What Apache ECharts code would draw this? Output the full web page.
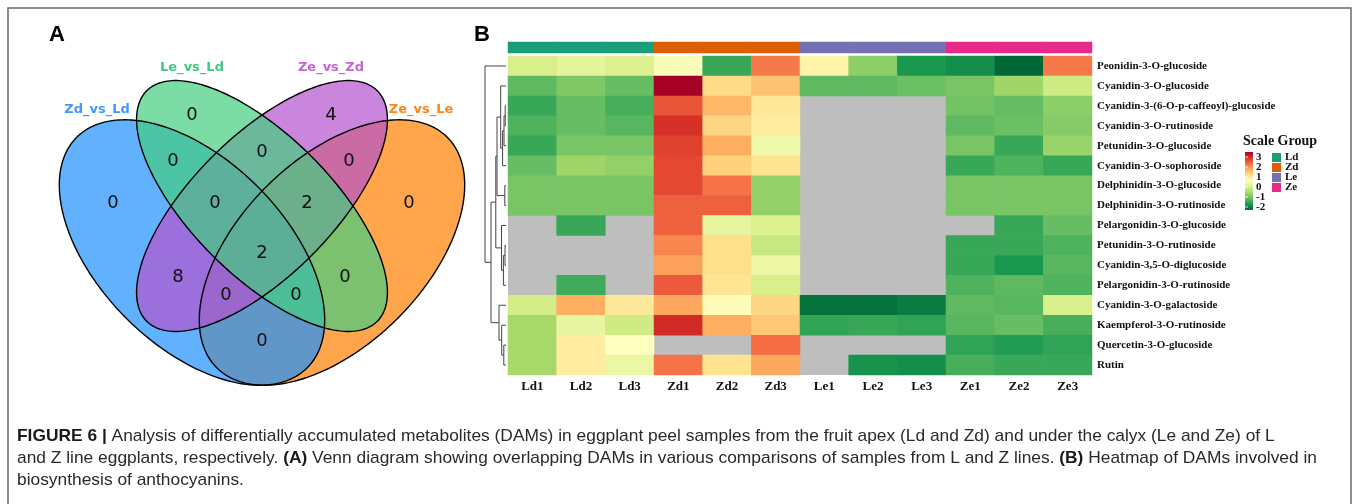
<!DOCTYPE html>
<html>
<head>
<meta charset="utf-8">
<script src="https://cdn.jsdelivr.net/npm/echarts@6/dist/echarts.min.js"></script>
<style>
  html, body { margin: 0; padding: 0; background: #fff; }
  #chart { width: 1357px; height: 504px; }
</style>
</head>
<body>
<div id="chart"></div>
<script>
// ---------- Panel A: Venn diagram of DAMs ----------
const vennSets = ['Zd_vs_Ld', 'Le_vs_Ld', 'Ze_vs_Zd', 'Ze_vs_Le'];
// regions named by the sets they belong to (B=Zd_vs_Ld, G=Le_vs_Ld, P=Ze_vs_Zd, O=Ze_vs_Le)
const vennRegions = ['B', 'G', 'P', 'O', 'BG', 'GP', 'PO', 'BGP', 'GPO', 'BP', 'BGPO', 'GO', 'BPO', 'BGO', 'BO'];
const vennCounts  = [ 0,   0,   4,   0,   0,    0,    0,    0,     2,     8,    2,      0,    0,     0,     0 ];

// ---------- Panel B: heatmap of anthocyanin-related DAMs ----------
const samples = ['Ld1', 'Ld2', 'Ld3', 'Zd1', 'Zd2', 'Zd3', 'Le1', 'Le2', 'Le3', 'Ze1', 'Ze2', 'Ze3'];
const sampleGroup = [0, 0, 0, 1, 1, 1, 2, 2, 2, 3, 3, 3];
const groups = ['Ld', 'Zd', 'Le', 'Ze'];
const metabolites = [
  'Peonidin-3-O-glucoside',
  'Cyanidin-3-O-glucoside',
  'Cyanidin-3-(6-O-p-caffeoyl)-glucoside',
  'Cyanidin-3-O-rutinoside',
  'Petunidin-3-O-glucoside',
  'Cyanidin-3-O-sophoroside',
  'Delphinidin-3-O-glucoside',
  'Delphinidin-3-O-rutinoside',
  'Pelargonidin-3-O-glucoside',
  'Petunidin-3-O-rutinoside',
  'Cyanidin-3,5-O-diglucoside',
  'Pelargonidin-3-O-rutinoside',
  'Cyanidin-3-O-galactoside',
  'Kaempferol-3-O-rutinoside',
  'Quercetin-3-O-glucoside',
  'Rutin'
];
// row-scaled abundance per metabolite (null = not detected)
const zscores = [
  [ 0.00,  0.15,  0.05,  0.45, -1.30,  1.90,  0.70, -0.70, -1.50, -1.60, -2.00,  1.90],
  [-1.05, -0.80, -1.00,  3.00,  1.05,  1.30, -1.05, -1.05, -0.95, -0.85, -0.55, -0.10],
  [-1.30, -1.00, -1.20,  2.20,  1.40,  0.85,  null,  null,  null, -0.90, -1.00, -0.70],
  [-1.15, -1.00, -1.10,  2.50,  1.10,  0.80,  null,  null,  null, -1.05, -0.95, -0.75],
  [-1.30, -0.85, -0.85,  2.35,  1.50,  0.30,  null,  null,  null, -0.85, -1.30, -0.60],
  [-1.00, -0.55, -0.65,  2.30,  1.15,  0.95,  null,  null,  null, -1.30, -1.15, -1.30],
  [-0.85, -0.85, -0.85,  2.30,  1.95, -0.65,  null,  null,  null, -0.85, -0.85, -0.85],
  [-0.85, -0.85, -0.85,  2.10,  2.10, -0.65,  null,  null,  null, -0.85, -0.85, -0.85],
  [ null, -1.30,  null,  2.10,  0.20,  0.05,  null,  null,  null,  null, -1.30, -1.00],
  [ null,  null,  null,  1.80,  1.00, -0.15,  null,  null,  null, -1.30, -1.30, -1.15],
  [ null,  null,  null,  1.60,  1.00,  0.25,  null,  null,  null, -1.30, -1.50, -1.10],
  [ null, -1.25,  null,  2.15,  0.90,  0.00,  null,  null,  null, -1.15, -1.05, -1.15],
  [-0.05,  1.50,  0.85,  1.55,  0.55,  1.10, -1.90, -1.90, -1.80, -1.05, -1.10,  0.00],
  [-0.50,  0.20, -0.10,  2.55,  1.50,  1.25, -1.35, -1.30, -1.35, -1.10, -1.00, -1.20],
  [-0.50,  0.80,  0.50,  null,  null,  2.00,  null,  null,  null, -1.35, -1.45, -1.35],
  [-0.50,  0.80,  0.25,  1.95,  0.95,  1.55,  null, -1.55, -1.60, -1.20, -1.30, -1.30]
];
const scaleTicks = [3, 2, 1, 0, -1, -2];
// row clustering: [childA, childB, height]; leaves are 0..15, merged nodes numbered from 16
const linkage = [
  [2, 3, 0.8], [6, 7, 1.2], [9, 10, 1.0], [16, 4, 2.0], [14, 15, 2.2],
  [18, 11, 2.6], [19, 5, 3.4], [13, 20, 4.3], [8, 21, 4.5], [1, 22, 5.3],
  [12, 23, 7.0], [25, 17, 9.0], [27, 24, 10.2], [28, 26, 15.0], [0, 29, 21.0]
];

// ---------- styling ----------
const heatColors = ['#006837', '#1a9850', '#66bd63', '#a6d96a', '#d9ef8b', '#ffffbf',
                    '#fee08b', '#fdae61', '#f46d43', '#d73027', '#a50026'];
const groupColors = ['#1b9e77', '#d95f02', '#7570b3', '#e7298a'];
const vennFill = { B: 'rgba(30,144,255,0.7)', G: 'rgba(67,205,128,0.7)', P: 'rgba(180,82,205,0.7)', O: 'rgba(255,127,0,0.7)' };
const vennLabelColor = ['#3d9bff', '#3fcb80', '#c862d6', '#ff8418'];
const serif = '"Liberation Serif", "DejaVu Serif", serif';
const sans = '"DejaVu Sans", sans-serif';

// Venn geometry (pixels)
const vennShapes = {
  O: { cx: 332, cy: 252.5, a: 163, b: 93, deg: -45 },
  B: { cx: 192, cy: 252.5, a: 163, b: 93, deg: 45 },
  P: { cx: 262, cy: 206,   a: 163, b: 70, deg: -45 },
  G: { cx: 262, cy: 206,   a: 163, b: 70, deg: 45 }
};
const vennLabelPos = {
  B: [113, 203], G: [192, 115], P: [331, 115], O: [409, 203],
  BG: [173, 161], GP: [262, 152], PO: [349, 161], BGP: [215, 203], GPO: [307, 203],
  BP: [178, 277], BGPO: [262, 253], GO: [345, 277], BPO: [226, 295], BGO: [296, 295], BO: [262, 341]
};
const vennSetLabelPos = [[97, 110], [192, 68], [331, 68], [421, 110]];

function ellipsePoints(s) {
  const t = s.deg * Math.PI / 180, pts = [];
  for (let i = 0; i < 240; i++) {
    const u = i / 240 * 2 * Math.PI;
    const x = s.a * Math.cos(u), y = s.b * Math.sin(u);
    pts.push([s.cx + x * Math.cos(t) - y * Math.sin(t), s.cy + x * Math.sin(t) + y * Math.cos(t)]);
  }
  return pts;
}

const graphics = [];
// outer frame
graphics.push({ type: 'rect', shape: { x: 8, y: 8, width: 1343, height: 540 },
  style: { fill: 'none', stroke: '#6a6a6a', lineWidth: 1.5 }, silent: true });
// panel letters
graphics.push({ type: 'text', x: 57, y: 35, style: { text: 'A', font: 'bold 22px "Liberation Sans", sans-serif', fill: '#000', align: 'center', verticalAlign: 'middle' } });
graphics.push({ type: 'text', x: 482, y: 35, style: { text: 'B', font: 'bold 22px "Liberation Sans", sans-serif', fill: '#000', align: 'center', verticalAlign: 'middle' } });

// Venn fills first, then outlines on top
['O', 'B', 'P', 'G'].forEach(k => {
  graphics.push({ type: 'polygon', shape: { points: ellipsePoints(vennShapes[k]) }, style: { fill: vennFill[k], stroke: 'none' }, silent: true });
});
['O', 'B', 'P', 'G'].forEach(k => {
  graphics.push({ type: 'polygon', shape: { points: ellipsePoints(vennShapes[k]) }, style: { fill: 'none', stroke: '#000', lineWidth: 1.4 }, silent: true });
});
vennRegions.forEach((r, i) => {
  const p = vennLabelPos[r];
  graphics.push({ type: 'text', x: p[0], y: p[1], style: { text: String(vennCounts[i]), font: '18px ' + sans, fill: '#111', align: 'center', verticalAlign: 'middle' } });
});
vennSets.forEach((name, i) => {
  const p = vennSetLabelPos[i];
  graphics.push({ type: 'text', x: p[0], y: p[1], style: { text: name, font: 'bold 13px ' + sans, fill: vennLabelColor[i], align: 'center', verticalAlign: 'middle' } });
});

// heatmap legend: "Scale Group"
graphics.push({ type: 'text', x: 1243, y: 141, style: { text: 'Scale Group', font: 'bold 14px ' + serif, fill: '#111', align: 'left', verticalAlign: 'middle' } });
const barTop = 152, barH = 58, barX = 1245, barW = 8;
graphics.push({ type: 'rect', shape: { x: barX, y: barTop, width: barW, height: barH },
  style: { fill: new echarts.graphic.LinearGradient(0, 0, 0, 1,
    heatColors.slice().reverse().map((c, i) => ({ offset: i / (heatColors.length - 1), color: c }))) } });
scaleTicks.forEach(t => {
  const y = 157 + (3 - t) * 10;
  graphics.push({ type: 'line', shape: { x1: barX, y1: y, x2: barX + 3, y2: y }, style: { stroke: 'rgba(255,255,255,0.8)', lineWidth: 1 } });
  graphics.push({ type: 'text', x: 1256, y: y, style: { text: String(t), font: 'bold 11px ' + serif, fill: '#111', align: 'left', verticalAlign: 'middle' } });
});
groups.forEach((g, i) => {
  const y = 153 + i * 10;
  graphics.push({ type: 'rect', shape: { x: 1272, y: y, width: 9, height: 9 }, style: { fill: groupColors[i] } });
  graphics.push({ type: 'text', x: 1285, y: y + 4.5, style: { text: g, font: 'bold 11px ' + serif, fill: '#111', align: 'left', verticalAlign: 'middle' } });
});

// caption
const capFont = '17px "Liberation Sans", Arial, sans-serif';
const capBold = 'bold 17px "Liberation Sans", Arial, sans-serif';
const captionLines = [
  [['b', 'FIGURE 6 |'], ['n', ' Analysis of differentially accumulated metabolites (DAMs) in eggplant peel samples from the fruit apex (Ld and Zd) and under the calyx (Le and Ze) of L']],
  [['n', 'and Z line eggplants, respectively. '], ['b', '(A)'], ['n', ' Venn diagram showing overlapping DAMs in various comparisons of samples from L and Z lines. '], ['b', '(B)'], ['n', ' Heatmap of DAMs involved in']],
  [['n', 'biosynthesis of anthocyanins.']]
];
const mctx = document.createElement('canvas').getContext('2d');
function lineWidth(parts) {
  return parts.reduce((w, p) => { mctx.font = p[0] === 'b' ? capBold : capFont; return w + mctx.measureText(p[1]).width; }, 0);
}
const capScale = 1300 / lineWidth(captionLines[1]);
captionLines.forEach((parts, i) => {
  graphics.push({
    type: 'text', x: 17, y: 436 + i * 22, scaleX: capScale,
    style: {
      text: parts.map(p => '{' + p[0] + '|' + p[1] + '}').join(''),
      verticalAlign: 'middle', align: 'left',
      rich: { b: { font: capBold, fill: '#1a1a1a' }, n: { font: capFont, fill: '#2a2a2a' } }
    }
  });
});

// ---------- series data ----------
const heatData = [];
zscores.forEach((row, r) => row.forEach((v, c) => { if (v !== null) heatData.push([c, r, v]); }));
const groupData = sampleGroup.map((g, c) => [c, 0, g]);

// dendrogram segments from the linkage
const nodeY = [], nodeH = [];
metabolites.forEach((m, i) => { nodeY[i] = i; nodeH[i] = 0; });
const dendroData = linkage.map((l, k) => {
  const id = metabolites.length + k;
  nodeY[id] = (nodeY[l[0]] + nodeY[l[1]]) / 2;
  nodeH[id] = l[2];
  return [l[2], nodeY[l[0]], nodeY[l[1]], nodeH[l[0]], nodeH[l[1]]];
});
const rootH = linkage[linkage.length - 1][2];

const gridLeft = 508, gridW = 584;
const option = {
  animation: false,
  backgroundColor: '#fff',
  graphic: graphics,
  grid: [
    { left: gridLeft, top: 56, width: gridW, height: 319, show: true, backgroundColor: '#bebebe', borderWidth: 0 },
    { left: gridLeft, top: 42, width: gridW, height: 11 },
    { left: 485, top: 56, width: 21, height: 319 }
  ],
  xAxis: [
    { type: 'category', gridIndex: 0, data: samples, position: 'bottom',
      axisLine: { show: false }, axisTick: { show: false }, splitLine: { show: false },
      axisLabel: { margin: 5, fontFamily: serif, fontWeight: 'bold', fontSize: 13, color: '#111' } },
    { type: 'category', gridIndex: 1, data: samples, show: false },
    { type: 'value', gridIndex: 2, min: 0, max: rootH, inverse: true, show: false }
  ],
  yAxis: [
    { type: 'category', gridIndex: 0, data: metabolites, position: 'right', inverse: true,
      axisLine: { show: false }, axisTick: { show: false }, splitLine: { show: false },
      axisLabel: { margin: 5, fontFamily: serif, fontWeight: 'bold', fontSize: 11, color: '#111' } },
    { type: 'category', gridIndex: 1, data: ['group'], show: false },
    { type: 'value', gridIndex: 2, min: -0.5, max: metabolites.length - 0.5, inverse: true, show: false }
  ],
  visualMap: [
    { type: 'continuous', min: -2, max: 3, seriesIndex: 0, dimension: 2, show: false, inRange: { color: heatColors } },
    { type: 'piecewise', seriesIndex: 1, dimension: 2, show: false,
      pieces: groups.map((g, i) => ({ value: i, color: groupColors[i] })) }
  ],
  series: [
    { type: 'heatmap', xAxisIndex: 0, yAxisIndex: 0, data: heatData, itemStyle: { borderWidth: 0 }, emphasis: { disabled: true } },
    { type: 'heatmap', xAxisIndex: 1, yAxisIndex: 1, data: groupData, itemStyle: { borderWidth: 0 }, emphasis: { disabled: true } },
    { type: 'custom', xAxisIndex: 2, yAxisIndex: 2, data: dendroData, silent: true,
      encode: { x: 0, y: 1 },
      renderItem: (params, api) => {
        const h = api.value(0), ya = api.value(1), yb = api.value(2), ha = api.value(3), hb = api.value(4);
        const pts = [api.coord([ha, ya]), api.coord([h, ya]), api.coord([h, yb]), api.coord([hb, yb])];
        return { type: 'polyline', shape: { points: pts }, style: { stroke: '#444', lineWidth: 1, fill: 'none' } };
      } }
  ]
};

const chart = echarts.init(document.getElementById('chart'), null, { renderer: 'canvas' });
chart.setOption(option);
</script>
</body>
</html>
